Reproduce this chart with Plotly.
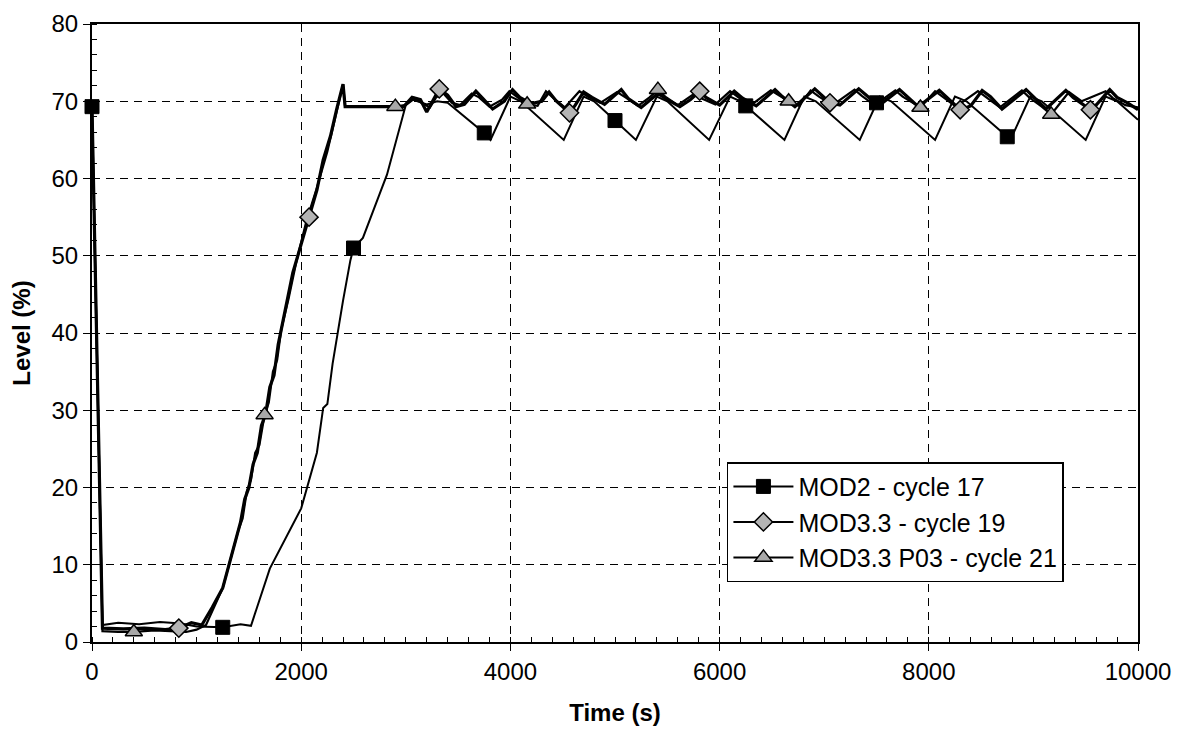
import plotly.graph_objects as go

# ---------------- data ----------------
mod2_t = [0, 100, 250, 450, 650, 850, 1000, 1250, 1420, 1520, 1700, 2000, 2150, 2210, 2250, 2300,
          2400, 2470, 2500, 2590, 2750, 2820, 3000, 3070, 3200, 3300, 3400, 3750, 3810, 4000, 4100,
          4510, 4700, 4800, 5000, 5200, 5400, 5500, 5900, 6100, 6200, 6250, 6620, 6810, 6920, 7340,
          7500, 7530, 7640, 8060, 8250, 8360, 8750, 8780, 8970, 9080, 9500, 9690, 9800, 10000]
mod2_y = [69.3, 2.2, 2.5, 2.3, 2.6, 2.4, 2.0, 1.9, 2.3, 2.1, 9.5, 17.3, 24.5, 30.3, 30.8, 36.0,
          44.2, 49.4, 51.0, 52.3, 58.0, 60.5, 69.5, 70.2, 69.6, 70.0, 69.8, 65.9, 65.0, 70.6, 70.0,
          65.0, 70.6, 70.0, 67.5, 65.0, 70.6, 70.0, 65.0, 70.6, 70.0, 69.4, 65.0, 70.6, 70.0, 65.0,
          69.8, 70.6, 70.0, 65.0, 70.6, 70.0, 65.4, 65.0, 70.6, 70.0, 65.0, 70.6, 70.0, 67.6]
mod2_marks = [0, 1250, 2500, 3750, 5000, 6250, 7500, 8750]

mod33_t = [0, 100, 300, 500, 700, 830, 950, 1050, 1150, 1250, 1320, 1380, 1420, 1460, 1500, 1540,
           1580, 1620, 1660, 1700, 1740, 1780, 1850, 1920, 2000, 2075, 2150, 2210, 2280, 2340, 2400,
           2420, 2600, 2800, 2980, 3060, 3140, 3200, 3260, 3320, 3400, 3480, 3560, 3670, 3740, 3830,
           3940, 4020, 4090, 4200, 4300, 4370, 4440, 4565, 4620, 4700, 4780, 4900, 5060, 5130, 5250,
           5410, 5500, 5620, 5720, 5810, 5870, 6000, 6140, 6220, 6350, 6530, 6600, 6720, 6910, 6980,
           7055, 7150, 7330, 7400, 7520, 7720, 7790, 7900, 8100, 8180, 8300, 8400, 8510, 8590, 8700,
           8930, 9000, 9120, 9310, 9380, 9545, 9600, 9730, 9800, 9900, 10000]
mod33_y = [69.3, 1.8, 1.7, 1.8, 1.6, 1.8, 2.5, 2.2, 4.5, 7.0, 10.5, 13.5, 15.5, 18.5, 20.0, 23.0,
           24.5, 28.0, 29.5, 33.0, 34.5, 38.5, 43.0, 47.8, 51.5, 55.0, 58.5, 62.4, 65.5, 69.0, 72.2,
           69.3, 69.3, 69.4, 69.3, 70.5, 70.2, 68.6, 70.0, 71.6, 70.8, 69.3, 69.6, 71.3, 70.3, 69.0,
           70.0, 71.5, 70.5, 69.7, 70.0, 71.2, 70.0, 68.5, 69.5, 71.2, 70.5, 69.6, 71.5, 70.3, 69.2,
           71.0, 70.2, 69.3, 70.2, 71.3, 70.5, 69.5, 71.3, 70.4, 69.4, 71.5, 70.6, 69.3, 71.6, 70.7,
           69.8, 69.5, 71.6, 70.8, 69.4, 71.5, 70.6, 69.3, 71.4, 70.4, 68.9, 69.4, 71.4, 70.6, 69.0,
           71.5, 70.6, 69.0, 71.4, 70.5, 68.9, 69.5, 71.5, 70.5, 69.8, 68.9]
mod33_marks = [830, 2075, 3320, 4565, 5810, 7055, 8300, 9545]

p03_t = [0, 100, 250, 400, 600, 800, 900, 1000, 1090, 1200, 1250, 1330, 1400, 1440, 1480, 1520,
         1560, 1600, 1650, 1690, 1730, 1770, 1810, 1880, 1950, 2050, 2150, 2250, 2340, 2400, 2420,
         2600, 2900, 2990, 3080, 3150, 3230, 3290, 3360, 3440, 3520, 3630, 3700, 3800, 3920, 3990,
         4060, 4160, 4260, 4340, 4420, 4520, 4660, 4740, 4860, 5020, 5100, 5220, 5330, 5410, 5480,
         5600, 5760, 5840, 5960, 6100, 6180, 6300, 6490, 6560, 6660, 6760, 6870, 6950, 7080, 7290,
         7360, 7480, 7680, 7750, 7920, 8060, 8140, 8260, 8470, 8550, 8680, 8890, 8960, 9080, 9170,
         9270, 9340, 9460, 9690, 9760, 9880, 10000]
p03_y = [69.0, 1.4, 1.3, 1.3, 1.5, 1.4, 1.3, 1.6, 2.2, 5.5, 7.0, 11.0, 14.5, 16.0, 19.5, 21.0,
         24.5, 25.5, 29.4, 31.0, 35.0, 36.5, 40.5, 44.5, 49.0, 54.5, 58.8, 63.5, 68.8, 72.2, 69.3,
         69.3, 69.3, 69.5, 70.4, 69.8, 69.2, 70.5, 71.0, 69.8, 69.5, 71.0, 70.5, 69.3, 70.2, 71.3,
         70.6, 69.6, 69.4, 71.3, 70.3, 69.2, 71.3, 70.6, 69.8, 71.2, 70.5, 69.4, 70.5, 71.5, 70.6,
         69.5, 71.0, 70.3, 69.6, 71.3, 70.5, 69.5, 71.4, 70.8, 70.0, 69.4, 71.4, 70.6, 69.5, 71.5,
         70.7, 69.5, 71.4, 70.6, 69.2, 71.3, 70.5, 69.3, 71.3, 70.5, 69.2, 71.4, 70.5, 69.3, 68.3,
         70.0, 71.2, 70.0, 71.3, 70.4, 69.5, 69.2]
p03_marks = [400, 1650, 2900, 4160, 5410, 6660, 7920, 9170]

names = ["MOD2 - cycle 17", "MOD3.3 - cycle 19", "MOD3.3 P03 - cycle 21"]
x_ticks = [0, 2000, 4000, 6000, 8000, 10000]
y_ticks = [0, 10, 20, 30, 40, 50, 60, 70, 80]

# ---------------- figure ----------------
FONT = "Liberation Sans, Arial, sans-serif"
fig = go.Figure()

series = [
    (mod2_t, mod2_y, mod2_marks, names[0], 2.0,
     dict(symbol="square", size=14, color="black", line=dict(color="black", width=1))),
    (mod33_t, mod33_y, mod33_marks, names[1], 3.2,
     dict(symbol="diamond", size=14, color="#b4b4b4", line=dict(color="black", width=1.5))),
    (p03_t, p03_y, p03_marks, names[2], 2.2,
     dict(symbol="triangle-up", size=15, color="#a8a8a8", line=dict(color="black", width=1.5))),
]

for t, y, marks, name, lw, mk in series:
    fig.add_trace(go.Scatter(x=t, y=y, mode="lines", line=dict(color="black", width=lw),
                             showlegend=False, hoverinfo="skip"))
for t, y, marks, name, lw, mk in series:
    my = [y[t.index(m)] for m in marks]
    fig.add_trace(go.Scatter(x=marks, y=my, mode="markers", marker=mk, showlegend=False,
                             cliponaxis=False))
for t, y, marks, name, lw, mk in series:
    fig.add_trace(go.Scatter(x=[None], y=[None], mode="lines+markers", name=name,
                             line=dict(color="black", width=min(lw, 2)), marker=mk))

fig.update_layout(
    width=1178, height=729,
    margin=dict(l=92, r=40, t=24, b=87),
    paper_bgcolor="white", plot_bgcolor="white",
    font=dict(family=FONT, size=24, color="black"),
    legend=dict(x=0.607, y=0.291, xanchor="left", yanchor="top",
                bgcolor="white", bordercolor="black", borderwidth=1.5,
                font=dict(size=25, family=FONT), itemwidth=60, tracegroupgap=0),
)
fig.update_xaxes(
    range=[0, 10000], tickvals=x_ticks, ticktext=[str(v) for v in x_ticks],
    showline=True, linecolor="black", linewidth=2, mirror=True, automargin=False,
    ticks="outside", ticklen=7, tickcolor="black", tickwidth=1,
    showgrid=True, gridcolor="black", gridwidth=1, griddash="8px,6px",
    minor=dict(dtick=200, ticks="inside", ticklen=5, tickcolor="black", showgrid=False),
    zeroline=False,
    title=dict(text="<b>Time (s)</b>", font=dict(size=24, family=FONT), standoff=20),
    tickfont=dict(size=24, family=FONT),
)
fig.update_yaxes(
    range=[0, 80], tickvals=y_ticks, ticktext=[str(v) for v in y_ticks],
    showline=True, linecolor="black", linewidth=2, mirror=True, automargin=False,
    ticks="outside", ticklen=7, tickcolor="black", tickwidth=1,
    showgrid=True, gridcolor="black", gridwidth=1, griddash="8px,6px",
    minor=dict(dtick=2, ticks="inside", ticklen=5, tickcolor="black", showgrid=False),
    zeroline=False,
    title=dict(text="<b>Level (%)</b>", font=dict(size=24, family=FONT), standoff=14),
    tickfont=dict(size=24, family=FONT),
)

fig.write_html("out.html")
